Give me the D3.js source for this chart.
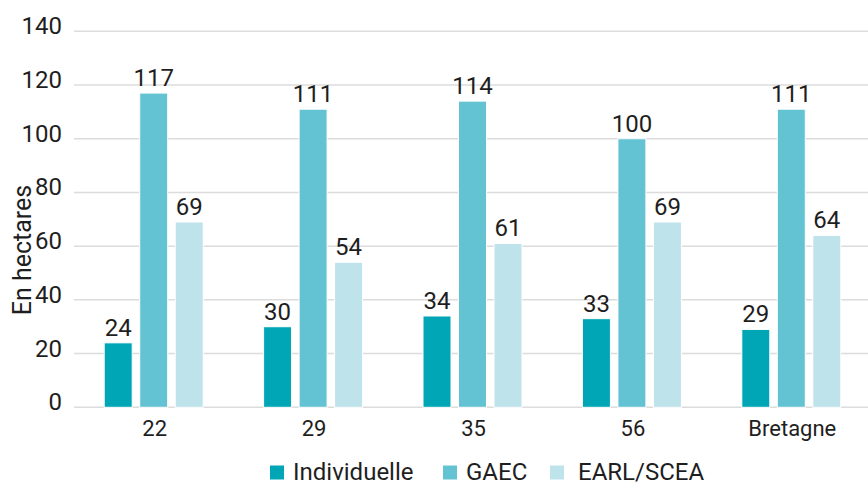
<!DOCTYPE html>
<html><head><meta charset="utf-8">
<script src="https://cdn.jsdelivr.net/npm/d3@7"></script>
<style>
html,body{margin:0;padding:0;background:#fff;}
svg{display:block;font-family:Roboto,"Noto Sans",sans-serif;}
</style></head>
<body><svg id="c" width="868" height="486"></svg>
<script>
const categories = ["22","29","35","56","Bretagne"];
const seriesNames = ["Individuelle","GAEC","EARL/SCEA"];
const individuelle = [24,30,34,33,29];
const gaec = [117,111,114,100,111];
const earl = [69,54,61,69,64];
const yTicks = [0,20,40,60,80,100,120,140];
const yTitle = "En hectares";

const colors = ["#00a5b6","#64c3d3","#bee3ea"];
const seriesValues = [individuelle, gaec, earl];
const svg = d3.select("#c");
const textColor = "#1e1e1e";

const x = d3.scaleBand().domain(categories).range([74, 871]).padding(0);
const y = d3.scaleLinear().domain([0,140]).range([407.3, 31.3]);

// gridlines
svg.append("g").selectAll("line").data(yTicks).join("line")
  .attr("x1", 74).attr("x2", 868)
  .attr("y1", d => y(d)).attr("y2", d => y(d))
  .attr("stroke", "#dcdcdc").attr("stroke-width", 1.5);

// y tick labels via axis
const yAxis = d3.axisLeft(y).tickValues(yTicks).tickSize(0).tickPadding(12);
const gy = svg.append("g").attr("transform","translate(74,0)").call(yAxis)
  .attr("font-size", null).attr("font-family", null);
gy.select(".domain").remove();
gy.selectAll("text").style("font-size", "24px").attr("fill", textColor)
  .attr("dy", null).attr("y", 2.5).style("font-family","Roboto");

// x labels via axis
const xAxis = d3.axisBottom(x).tickSize(0).tickPadding(0);
const gx = svg.append("g").attr("transform","translate(0,407.3)").call(xAxis)
  .attr("font-size", null).attr("font-family", null);
gx.select(".domain").remove();
gx.selectAll("text").style("font-size", "22px").attr("fill", textColor)
  .attr("dy", null).attr("y", 29).style("font-family","Roboto").attr("transform","translate(1,0)");

// bars
const offsets = [-35.5, 0, 35.5];
const bw = 28;
const barData = [];
categories.forEach((c,i) => seriesValues.forEach((s,j) => barData.push({c, j, v: s[i]})));
svg.append("g").selectAll("rect").data(barData).join("rect")
  .attr("x", d => x(d.c) + x.bandwidth()/2 + offsets[d.j] - bw/2)
  .attr("y", d => y(d.v))
  .attr("width", bw)
  .attr("height", d => y(0) - y(d.v))
  .attr("fill", d => colors[d.j])
  .attr("stroke", "#ffffff").attr("stroke-width", 1);

svg.append("g").selectAll("text").data(barData).join("text")
  .attr("x", d => x(d.c) + x.bandwidth()/2 + offsets[d.j])
  .attr("y", d => y(d.v) - 7)
  .attr("text-anchor","middle")
  .style("font-size", "24px").attr("fill", textColor)
  .text(d => d.v);

// y title
svg.append("text")
  .attr("transform","translate(31,250) rotate(-90)")
  .attr("text-anchor","middle")
  .style("font-size", "25px").attr("fill", textColor)
  .text(yTitle);

// legend
const legX = [270, 443, 550];
const leg = svg.append("g").selectAll("g").data(seriesNames).join("g")
  .attr("transform", (d,i) => `translate(${legX[i]},0)`);
leg.append("rect").attr("x",0).attr("y",465.5).attr("width",14).attr("height",14)
  .attr("fill",(d,i)=>colors[i]);
leg.append("text").attr("x",(d,i)=> i===2 ? 28 : 23).attr("y",480)
  .style("font-size","24px").attr("fill",textColor).text(d=>d);
</script></body></html>
